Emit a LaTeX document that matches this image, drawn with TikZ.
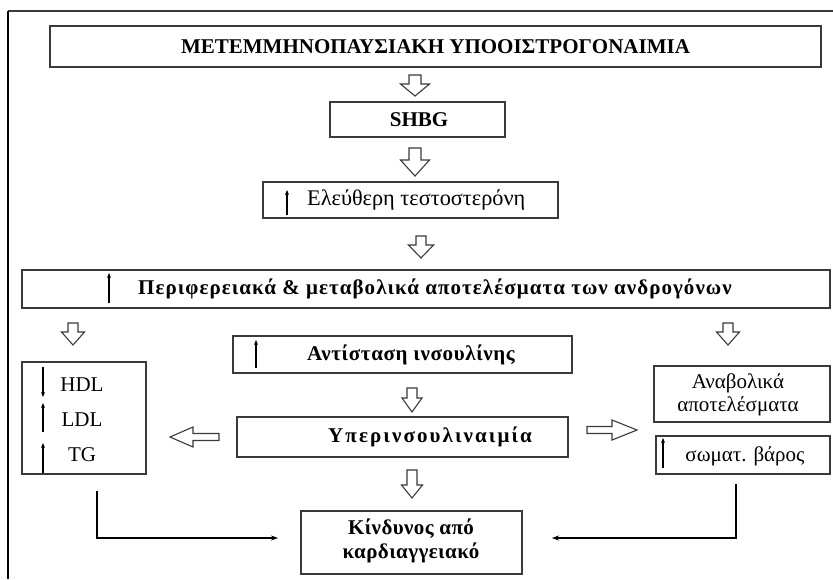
\documentclass[tikz,border=0pt]{standalone}
\usepackage{fontspec}
\setmainfont{Liberation Serif}
\usetikzlibrary{arrows.meta,calc}
\definecolor{boxgray}{HTML}{3A3A3A}
\begin{document}
\begin{tikzpicture}[x=1pt,y=-1pt,
  box/.style={draw=boxgray,line width=1.4pt,rectangle,inner sep=0pt,fill=white},
  txt/.style={inner sep=0pt,font=\fontsize{21}{24}\selectfont},
  btxt/.style={inner sep=0pt,font=\fontsize{21}{24}\selectfont\bfseries\addfontfeatures{LetterSpace=#1}},
  btxt/.default=0,
  barrow/.style={draw=boxgray,line width=1.1pt,fill=white,line join=miter},
  thin/.style={draw=black,line width=1.3pt,-{Stealth[length=5pt,width=4pt]}},
  conn/.style={draw=black,line width=1.1pt,-{Stealth[length=7pt,width=5pt]}},
  pics/bdown/.style n args={4}{code={
    \path[barrow] (-#1,0) -- (#1,0) -- (#1,#3) -- (#2,#3) -- (0,#3+#4) -- (-#2,#3) -- (-#1,#3) -- cycle;}},
  pics/bright/.style n args={4}{code={
    \path[barrow] (0,-#1) -- (#3,-#1) -- (#3,-#2) -- (#3+#4,0) -- (#3,#2) -- (#3,#1) -- (0,#1) -- cycle;}},
  pics/bleft/.style n args={4}{code={
    \path[barrow] (0,-#1) -- (-#3,-#1) -- (-#3,-#2) -- (-#3-#4,0) -- (-#3,#2) -- (-#3,#1) -- (0,#1) -- cycle;}}
]
\useasboundingbox (0,0) rectangle (833,579);
\fill[white] (0,0) rectangle (833,579);
% outer frame
\coordinate (f1) at (833,11);
\coordinate (f2) at (8,11);
\coordinate (f3) at (8,579);
\draw[boxgray,line width=1.5pt] (f1) -- (f2);
\draw[black,line width=1.5pt] (f2) -- (f3);

% boxes
\node[box,minimum width=771pt,minimum height=41pt] (title) at (435.5,46.5) {};
\node[btxt] (titlet) at (435.5,46.5) {ΜΕΤΕΜΜΗΝΟΠΑΥΣΙΑΚΗ ΥΠΟΟΙΣΤΡΟΓΟΝΑΙΜΙΑ};
\node[box,minimum width=175pt,minimum height=35pt] (shbg) at (417.5,119.5) {};
\node[btxt] (shbgt) at (419,119.5) {SHBG};
\node[box,minimum width=295pt,minimum height=36pt] (free) at (410.5,200) {};
\node[txt,anchor=west,font=\fontsize{22.3}{24}\selectfont] (freet) at (307,200) {Ελεύθερη τεστοστερόνη};
\node[box,minimum width=808pt,minimum height=38pt] (periph) at (426,289) {};
\node[btxt=5,anchor=west] (periphtt) at (138,289) {Περιφερειακά \& μεταβολικά αποτελέσματα των ανδρογόνων};
\node[box,minimum width=124pt,minimum height=112pt] (hdl) at (84,418) {};
\node[txt] (hdlt) at (82,385) {HDL};
\node[txt] (ldlt) at (82,420) {LDL};
\node[txt] (tgt) at (82,455) {TG};
\node[box,minimum width=339pt,minimum height=37pt] (anti) at (402.5,354.5) {};
\node[btxt=3,anchor=west] (antit) at (307,354.5) {Αντίσταση ινσουλίνης};
\node[box,minimum width=331pt,minimum height=40pt] (yper) at (402.5,437) {};
\node[btxt=10,anchor=west] (ypert) at (328,437) {Υπερινσουλιναιμία};
\node[box,minimum width=176pt,minimum height=56pt] (anab) at (742,394) {};
\node[txt,align=center] (anabt) at (738,394.5) {Αναβολικά\\[-1pt]αποτελέσματα};
\node[box,minimum width=174pt,minimum height=38pt] (soma) at (743,455) {};
\node[txt] (somat) at (745,456) {σωματ. βάρος};
\node[box,minimum width=221pt,minimum height=63pt] (kind) at (411.5,542.5) {};
\node[btxt=2,align=center] (kindt) at (411,540.5) {Κίνδυνος από\\καρδιαγγειακό};

% thin arrows inside boxes
\draw[thin] (287,215) -- (287,190);
\draw[thin] (109,303) -- (109,273);
\draw[thin] (43,367) -- (43,397);
\draw[thin] (43,432) -- (43,403);
\draw[thin] (43,473) -- (43,443);
\draw[thin] (256,368) -- (256,340);
\draw[thin] (663,468) -- (663,438);

% block arrows
\pic at (415,75) {bdown={6}{14.5}{9}{12}};
\pic at (415,148) {bdown={6}{14.5}{12}{16}};
\pic at (421,236) {bdown={5}{12.5}{9}{13}};
\pic at (73,323) {bdown={5}{11.5}{9}{13}};
\pic at (728,323) {bdown={5}{11.5}{9}{13}};
\pic at (412,388) {bdown={5}{10}{10}{14}};
\pic at (412,470) {bdown={5}{10.5}{15}{13}};
\pic at (219,437) {bleft={3.5}{10}{26}{23}};
\pic at (587,430) {bright={3.5}{10}{25}{25}};

% connectors to risk box
\coordinate (ls) at (97,491);
\coordinate (le) at (278,538);
\coordinate (rs) at (736,484);
\coordinate (re) at (552,538);
\draw[conn] (ls) |- (le);
\draw[conn] (rs) |- (re);
\end{tikzpicture}
\end{document}
